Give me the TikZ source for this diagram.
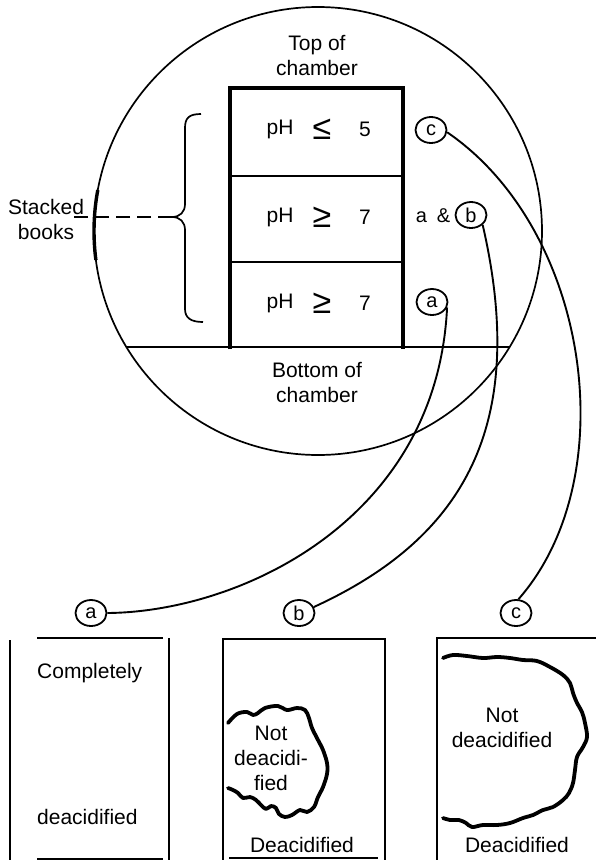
\documentclass[tikz,border=0pt]{standalone}
\usepackage{fontspec}
\setmainfont{Liberation Sans}
\usetikzlibrary{shapes.geometric}
\begin{document}
\begin{tikzpicture}[x=1pt,y=-1pt,
  thinline/.style={line width=1.7pt},
  thickline/.style={line width=3.6pt},
  conn/.style={line width=1.9pt},
  blob/.style={line width=3.8pt, line cap=round, line join=round},
  txt/.style={font=\fontsize{21}{25}\selectfont, inner sep=0pt, align=center},
  sym/.style={font=\fontsize{34}{34}\selectfont, inner sep=0pt},
  tag/.style={draw, ellipse, line width=1.8pt, minimum width=31pt, minimum height=26pt, inner sep=0pt, font=\fontsize{20}{20}\selectfont}
]
\useasboundingbox (0,0) rectangle (596,860);

% chamber circle
\draw[thinline] (318,231) circle[radius=224];
\draw[line width=3.4pt] (318,231) ++(172.56:224) arc[start angle=172.56, end angle=190.55, radius=224];
% bottom of chamber chord
\draw[thinline] (126.4,347) -- (509.6,347);

% stack of books
\draw[thickline] (230,349) -- (230,88) -- (403,88) -- (403,349);
\draw[thinline] (230,176) -- (403,176);
\draw[thinline] (230,262) -- (403,262);

\node[txt] (top) at (317,55.5) {Top of\\chamber};
\node[txt] (bottom) at (317,382.5) {Bottom of\\chamber};

\node[txt] (ph1) at (280,129) {pH};
\node[sym] (s1) at (322,129) {≤};
\node[txt] (n1) at (365,129) {5};
\node[txt] (ph2) at (280,217) {pH};
\node[sym] (s2) at (322,217) {≥};
\node[txt] (n2) at (365,217) {7};
\node[txt] (ph3) at (280,303) {pH};
\node[sym] (s3) at (322,303) {≥};
\node[txt] (n3) at (365,303) {7};

% upper tags
\node[tag] (uc) at (431,130) {c};
\node[txt, font=\fontsize{20}{20}\selectfont] (aamp) at (433,216) {a\hspace{0.5em}\&};
\node[tag] (ub) at (471,215) {b};
\node[tag] (ua) at (432,302) {a};

% brace and label
\coordinate (bracetip) at (172,217);
\coordinate (dashend) at (73,217);
\draw[thinline] (201,114) .. controls (189,114) and (185,118) .. (185,128) -- (185,204)
  .. controls (185,212) and (180,217) .. (bracetip)
  .. controls (180,217) and (185,222) .. (185,230) -- (185,309)
  .. controls (185,318) and (191,322) .. (203,322);
\draw[thinline, dash pattern=on 14pt off 7pt] (bracetip) -- (dashend);
\node[txt] (stacked) at (46,219.5) {Stacked\\books};

% lower tags
\node[tag] (la) at (91,613) {a};
\node[tag] (lb) at (299,613) {b};
\node[tag] (lc) at (516,613) {c};

% connectors
\draw[conn] (ua.-20) .. controls (437,520) and (240,612) .. (la.east);
\draw[conn] (ub.-40) .. controls (530,430) and (460,540) .. (lb.22);
\draw[conn] (uc.-8) .. controls (590,230) and (625,478) .. (lc.80);

% panel a
\draw[thinline] (10,640) -- (10,860);
\draw[thinline] (37,638) -- (163,638);
\draw[thinline] (169,638) -- (169,860);
\draw[thinline] (37,859) -- (163,859);
\node[txt, anchor=west] (compl) at (37,673) {Completely};
\node[txt, anchor=west] (deac) at (37,817) {deacidified};

% panel b
\draw[thinline] (223,860) -- (223,639) -- (385,639) -- (385,860);
\draw[thinline] (229,858) -- (378,858);
\draw[blob] plot[smooth, tension=0.6] coordinates {
 (228,723) (237,714) (247,712) (253,715) (258,713) (265,708) (278,706) (287,710)
 (297,708) (305,710) (309,718) (312,728) (318,740) (323,750) (327,763) (327,774)
 (323,787) (318,797) (314,807) (307,812) (300,810) (292,815) (285,817) (279,814)
 (276,808) (271,806) (266,809) (261,805) (256,800) (250,797) (243,798) (238,793)
 (233,790) (228,788)};
\node[txt] (nb) at (271,758) {Not\\deacidi-\\fied};
\node[txt] (db) at (302,845) {Deacidified};

% panel c
\draw[thinline] (437,860) -- (437,638) -- (596,638);
\draw[blob] plot[smooth, tension=0.6] coordinates {
 (443,658) (453,655) (467,656) (483,658) (497,657) (510,658) (523,660) (537,661)
 (550,667) (563,675) (570,683) (573,693) (577,703) (582,712) (585,723) (587,737)
 (583,747) (577,757) (575,770) (573,783) (569,793) (563,800) (553,807) (543,810)
 (533,815) (523,818) (510,823) (497,825) (483,825) (472,827) (466,823) (459,820)
 (450,820) (443,818)};
\node[txt] (nc) at (502,727.5) {Not\\deacidified};
\node[txt] (dc) at (517,845) {Deacidified};
\end{tikzpicture}
\end{document}
